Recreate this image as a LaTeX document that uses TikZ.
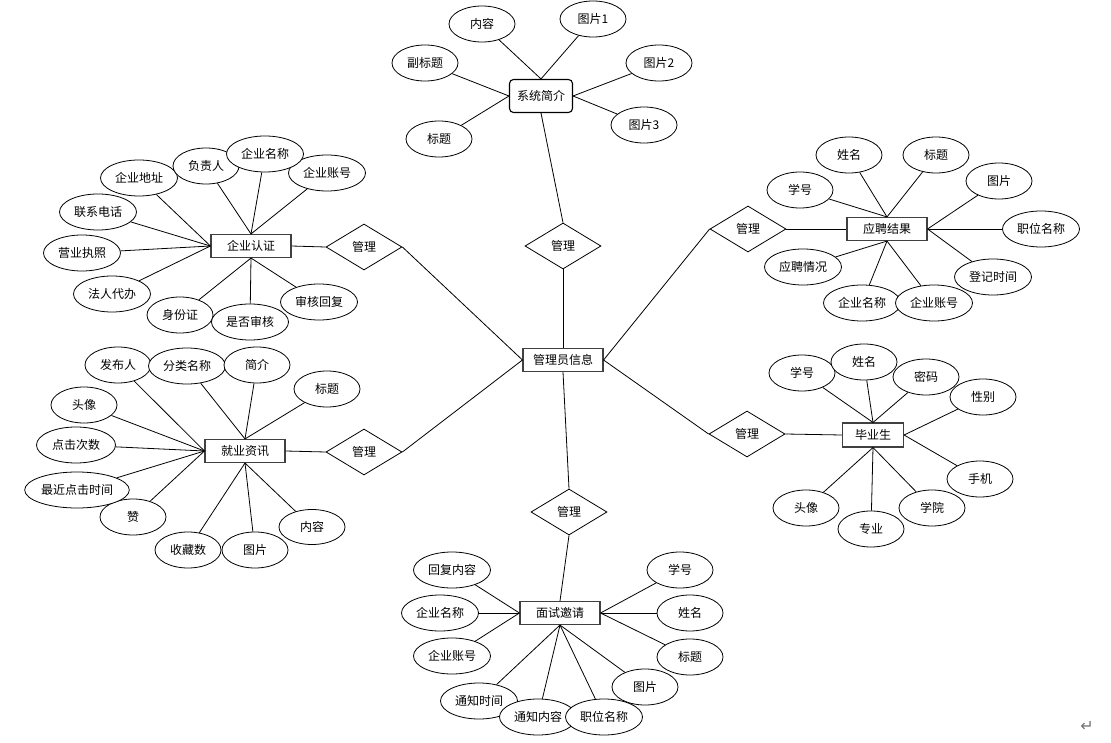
\documentclass[tikz,border=0pt]{standalone}
\usepackage{fontspec}
\setmainfont{Noto Sans CJK SC}
\newfontfamily\symfont{DejaVu Sans}
\usetikzlibrary{shapes.geometric}

\begin{document}
\begin{tikzpicture}[x=1pt, y=-1pt,
  font=\fontsize{12pt}{13pt}\selectfont,
  entity/.style={draw=black!75, line width=1.1pt, rectangle, minimum width=80pt, minimum height=23pt, inner sep=0pt, fill=white},
  attr/.style={draw, ellipse, line width=0.8pt, minimum width=66pt, minimum height=36pt, inner sep=1pt, fill=white},
  wide/.style={attr, minimum width=77pt},
  rel/.style={draw, diamond, line width=0.8pt, minimum width=76pt, minimum height=46pt, inner sep=0pt},
  link/.style={line width=0.8pt}
]
  \useasboundingbox (0,0) rectangle (1111,743);

  % Entities
  \node[entity] (admin) at (563,360) {管理员信息};
  \node[entity, draw=black, rounded corners=4pt, minimum width=63pt, minimum height=33pt] (intro) at (541,96) {系统简介};
  \node[entity] (cert) at (251,246) {企业认证};
  \node[entity] (news) at (245,451) {就业资讯};
  \node[entity] (result) at (887,229) {应聘结果};
  \node[entity, minimum width=61pt, minimum height=24pt] (grad) at (873,435) {毕业生};
  \node[entity] (invite) at (560,613) {面试邀请};

  % Relations
  \node[rel] (mIntro) at (563,246) {管理};
  \node[rel] (mCert) at (364,247) {管理};
  \node[rel] (mNews) at (364,452) {管理};
  \node[rel] (mResult) at (748,229) {管理};
  \node[rel] (mGrad) at (747,434) {管理};
  \node[rel] (mInvite) at (569,512) {管理};

  \draw[link] (admin.north) -- (mIntro.south);
  \draw[link] (admin.west) -- (mCert.east);
  \draw[link] (admin.west) -- (mNews.east);
  \draw[link] (admin.east) -- (mResult.west);
  \draw[link] (admin.east) -- (mGrad.west);
  \draw[link] (admin.south) -- (mInvite.north);
  \draw[link] (mIntro.north) -- (intro.south);
  \draw[link] (mCert.west) -- (cert.east);
  \draw[link] (mNews.west) -- (news.east);
  \draw[link] (mResult.east) -- (result.west);
  \draw[link] (mGrad.east) -- (grad.west);
  \draw[link] (mInvite.south) -- (invite.north);

  % System intro attributes
  \node[attr] (iContent) at (482,24) {内容};
  \node[attr] (iPic1) at (593,19) {图片1};
  \node[attr] (iPic2) at (659,63) {图片2};
  \node[attr] (iSub) at (425,63) {副标题};
  \node[attr] (iPic3) at (644,125) {图片3};
  \node[attr] (iTitle) at (439,139) {标题};
  \draw[link] (intro.north) -- (iContent);
  \draw[link] (intro.north) -- (iPic1);
  \draw[link] (intro.east) -- (iPic2);
  \draw[link] (intro.east) -- (iPic3);
  \draw[link] (intro.west) -- (iSub);
  \draw[link] (intro.west) -- (iTitle);

  % Company certification attributes
  \node[wide] (cAddr) at (139,178) {企业地址};
  \node[attr] (cBoss) at (206,166) {负责人};
  \node[wide] (cAcct) at (327,173) {企业账号};
  \node[wide] (cName) at (265,154) {企业名称};
  \node[wide] (cPhone) at (98,212) {联系电话};
  \node[wide] (cLicense) at (82,253) {营业执照};
  \node[wide] (cAgent) at (112,294) {法人代办};
  \node[attr] (cId) at (180,315) {身份证};
  \node[wide] (cReply) at (319,302) {审核回复};
  \node[wide] (cCheck) at (250,322) {是否审核};
  \draw[link] (cert.north) -- (cBoss);
  \draw[link] (cert.north) -- (cName);
  \draw[link] (cert.north) -- (cAcct);
  \draw[link] (cert.west) -- (cAddr);
  \draw[link] (cert.west) -- (cPhone);
  \draw[link] (cert.west) -- (cLicense);
  \draw[link] (cert.west) -- (cAgent);
  \draw[link] (cert.south) -- (cId);
  \draw[link] (cert.south) -- (cCheck);
  \draw[link] (cert.south) -- (cReply);

  % Job news attributes
  \node[attr] (nAuthor) at (118,365) {发布人};
  \node[wide] (nType) at (187,366) {分类名称};
  \node[attr] (nBrief) at (257,365) {简介};
  \node[attr] (nTitle) at (327,389) {标题};
  \node[attr] (nAvatar) at (84,405) {头像};
  \node[wide, minimum width=79pt] (nClicks) at (76,445) {点击次数};
  \node[attr] (nLike) at (133,517) {赞};
  \node[attr, minimum width=101pt] (nLast) at (77,490) {最近点击时间};
  \node[attr] (nFav) at (188,550) {收藏数};
  \node[attr] (nPic) at (255,550) {图片};
  \node[attr, minimum height=35pt] (nContent) at (312,527) {内容};
  \draw[link] (news.north) -- (nType);
  \draw[link] (news.north) -- (nBrief);
  \draw[link] (news.north) -- (nTitle);
  \draw[link] (news.west) -- (nAuthor);
  \draw[link] (news.west) -- (nAvatar);
  \draw[link] (news.west) -- (nClicks);
  \draw[link] (news.west) -- (nLast);
  \draw[link] (news.west) -- (nLike);
  \draw[link] (news.south) -- (nFav);
  \draw[link] (news.south) -- (nPic);
  \draw[link] (news.south) -- (nContent);

  % Application result attributes
  \node[attr] (rName) at (849,155) {姓名};
  \node[attr] (rTitle) at (936,155) {标题};
  \node[attr] (rNo) at (800,190) {学号};
  \node[attr] (rPic) at (999,181) {图片};
  \node[wide] (rJob) at (1041,229) {职位名称};
  \node[wide] (rState) at (803,267) {应聘情况};
  \node[wide] (rTime) at (993,277) {登记时间};
  \node[wide] (rCorp) at (862,303) {企业名称};
  \node[wide] (rAcct) at (934,303) {企业账号};
  \draw[link] (result.north) -- (rNo);
  \draw[link] (result.north) -- (rName);
  \draw[link] (result.north) -- (rTitle);
  \draw[link] (result.east) -- (rPic);
  \draw[link] (result.east) -- (rJob);
  \draw[link] (result.east) -- (rTime);
  \draw[link] (result.south) -- (rState);
  \draw[link] (result.south) -- (rCorp);
  \draw[link] (result.south) -- (rAcct);

  % Graduate attributes
  \node[attr] (gNo) at (802,373) {学号};
  \node[attr] (gName) at (864,362) {姓名};
  \node[attr] (gPwd) at (926,377) {密码};
  \node[attr] (gSex) at (983,397) {性别};
  \node[attr] (gPhone) at (980,479) {手机};
  \node[attr] (gCollege) at (932,508) {学院};
  \node[attr] (gMajor) at (871,529) {专业};
  \node[attr] (gAvatar) at (806,508) {头像};
  \draw[link] (grad.north) -- (gNo);
  \draw[link] (grad.north) -- (gName);
  \draw[link] (grad.north) -- (gPwd);
  \draw[link] (grad.east) -- (gSex);
  \draw[link] (grad.east) -- (gPhone);
  \draw[link] (grad.south) -- (gCollege);
  \draw[link] (grad.south) -- (gMajor);
  \draw[link] (grad.south) -- (gAvatar);

  % Interview invitation attributes
  \node[wide] (vReply) at (452,570) {回复内容};
  \node[wide] (vCorp) at (440,613) {企业名称};
  \node[wide] (vAcct) at (452,656) {企业账号};
  \node[attr] (vNo) at (680,570) {学号};
  \node[attr] (vName) at (690,613) {姓名};
  \node[attr] (vTitle) at (690,657) {标题};
  \node[attr] (vPic) at (645,687) {图片};
  \node[wide] (vTime) at (479,701) {通知时间};
  \node[wide] (vMsg) at (538,717) {通知内容};
  \node[wide] (vJob) at (604,717) {职位名称};
  \draw[link] (invite.west) -- (vReply);
  \draw[link] (invite.west) -- (vCorp);
  \draw[link] (invite.west) -- (vAcct);
  \draw[link] (invite.east) -- (vNo);
  \draw[link] (invite.east) -- (vName);
  \draw[link] (invite.east) -- (vTitle);
  \draw[link] (invite.south) -- (vPic);
  \draw[link] (invite.south) -- (vTime);
  \draw[link] (invite.south) -- (vMsg);
  \draw[link] (invite.south) -- (vJob);

  % Paragraph mark
  \node[text=black!55, font=\symfont\fontsize{16pt}{16pt}\selectfont] (retMark) at (1087,726) {↵};
\end{tikzpicture}
\end{document}
